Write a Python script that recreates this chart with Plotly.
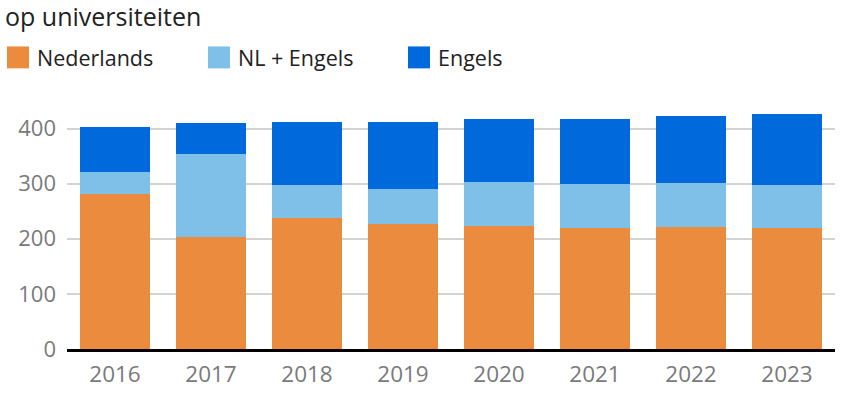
import plotly.graph_objects as go

years = ["2016", "2017", "2018", "2019", "2020", "2021", "2022", "2023"]
nederlands = [282, 204, 237, 227, 223, 220, 222, 220]
nl_engels = [40, 149, 61, 64, 80, 79, 79, 78]
engels = [80, 57, 114, 120, 114, 119, 122, 128]
series_names = ["Nederlands", "NL + Engels", "Engels"]
colors = ["#EB8B3E", "#7EC0E8", "#006ADC"]
title_text = "op universiteiten"
y_ticks = [0, 100, 200, 300, 400]

W, H = 854, 400
L, R = 67, 835
T, B = 100.7, 349.3

fig = go.Figure()
for name, vals, col in zip(series_names, [nederlands, nl_engels, engels], colors):
    fig.add_trace(go.Bar(x=years, y=vals, name=name, marker=dict(color=col, line=dict(width=0))))

def px_x(p):
    return (p - L) / (R - L)

def px_y(p):
    return (B - p) / (B - T)

# custom legend
legend_pos = [7, 208, 408]
shapes = []
annotations = []
for name, col, lx in zip(series_names, colors, legend_pos):
    shapes.append(dict(type="rect", xref="paper", yref="paper",
                       x0=px_x(lx), x1=px_x(lx + 22), y0=px_y(68), y1=px_y(46),
                       fillcolor=col, line=dict(width=0)))
    annotations.append(dict(text=name, xref="paper", yref="paper", x=px_x(lx + 28), y=px_y(57),
                            xanchor="left", yanchor="middle", showarrow=False,
                            font=dict(size=21.5, color="#222222", family="Open Sans")))
annotations.append(dict(text=title_text, xref="paper", yref="paper", x=px_x(3), y=px_y(15),
                        xanchor="left", yanchor="middle", showarrow=False,
                        font=dict(size=25, color="#222222", family="Open Sans")))

fig.update_layout(
    width=W, height=H, barmode="stack", bargap=0.28,
    margin=dict(l=L, r=W - R, t=T, b=H - B, pad=0, autoexpand=False),
    plot_bgcolor="white", paper_bgcolor="white",
    showlegend=False, shapes=shapes, annotations=annotations,
    font=dict(family="Open Sans"),
    xaxis=dict(showline=True, linecolor="black", linewidth=3, ticks="", automargin=False,
               ticklabelstandoff=3,
               tickfont=dict(size=22.5, color="#7a7a7a"), showgrid=False, fixedrange=True),
    yaxis=dict(range=[0, 450], tickvals=y_ticks, showgrid=True, gridcolor="#d3d3d3", gridwidth=2,
               zeroline=False, ticks="", ticklabelstandoff=10, automargin=False, fixedrange=True,
               tickfont=dict(size=22, color="#7a7a7a")),
)
fig.write_html("out.html", post_script="document.body.style.margin='0';",
               config={"displayModeBar": False})
